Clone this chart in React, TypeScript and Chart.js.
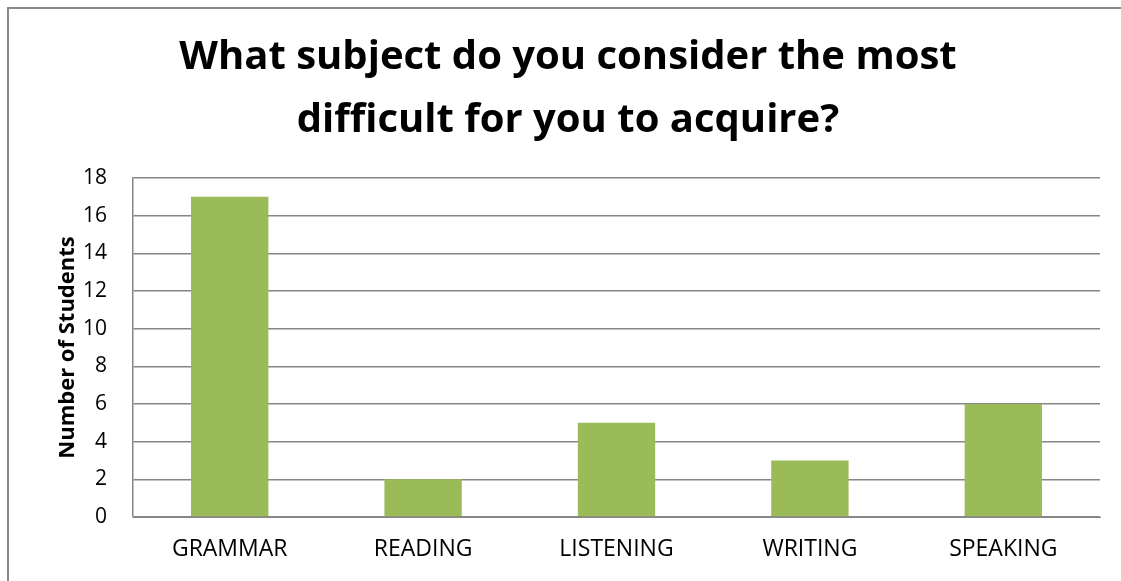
import React, { useEffect, useRef } from "react";
import { Chart, registerables } from "chart.js";

Chart.register(...registerables);

const categories = ["GRAMMAR", "READING", "LISTENING", "WRITING", "SPEAKING"];
const students = [17, 2, 5, 3, 6];
const titleLines = ["What subject do you consider the most", "difficult for you to acquire?"];
const yAxisTitle = "Number of Students";
const yMin = 0;
const yMax = 18;
const yStep = 2;

export default function App() {
  const ref = useRef<HTMLCanvasElement | null>(null);

  useEffect(() => {
    if (!ref.current) return;
    const chart = new Chart(ref.current, {
      type: "bar",
      data: {
        labels: categories,
        datasets: [
          {
            data: students,
            backgroundColor: "#9BBB59",
            borderWidth: 0,
            barPercentage: 0.4,
            categoryPercentage: 1,
          },
        ],
      },
      options: {
        responsive: false,
        animation: false,
        layout: { padding: { left: 36, right: 21, top: 0, bottom: 0 } },
        plugins: {
          legend: { display: false },
          tooltip: { enabled: false },
          title: {
            display: true,
            text: titleLines,
            color: "#000",
            font: { family: "'Open Sans'", size: 40, weight: "bold", lineHeight: 63 / 40 },
            padding: { top: 26.5, bottom: 25.5 },
          },
        },
        scales: {
          x: {
            grid: { display: false, drawTicks: false },
            border: { display: true, color: "#868686", width: 1 },
            ticks: {
              color: "#000",
              font: { family: "'Open Sans'", size: 23 },
              padding: 19,
              maxRotation: 0,
            },
            afterFit: (s: any) => {
              s.height = 64;
            },
          },
          y: {
            min: yMin,
            max: yMax,
            grid: { color: "#868686", lineWidth: 1.5, drawTicks: false },
            border: { display: true, color: "#868686", width: 1.5 },
            ticks: {
              stepSize: yStep,
              color: "#000",
              font: { family: "'Open Sans'", size: 21 },
              padding: 26,
            },
            title: {
              display: true,
              text: yAxisTitle,
              color: "#000",
              font: { family: "'Open Sans'", size: 22, weight: "bold" },
              padding: { top: 19, bottom: 0 },
            },
            afterFit: (s: any) => {
              s.width = 97;
            },
          },
        },
      },
    });
    return () => chart.destroy();
  }, []);

  return (
    <div
      style={{
        position: "fixed",
        left: 0,
        top: 0,
        width: 1121,
        height: 581,
        overflow: "hidden",
        background: "#fff",
      }}
    >
      <div
        style={{
          position: "absolute",
          left: 7,
          top: 7,
          width: 1300,
          height: 800,
          border: "2px solid #8a8a8a",
        }}
      />
      <canvas
        ref={ref}
        width={1121}
        height={581}
        style={{ position: "absolute", left: 0, top: 0, display: "block" }}
      />
    </div>
  );
}
